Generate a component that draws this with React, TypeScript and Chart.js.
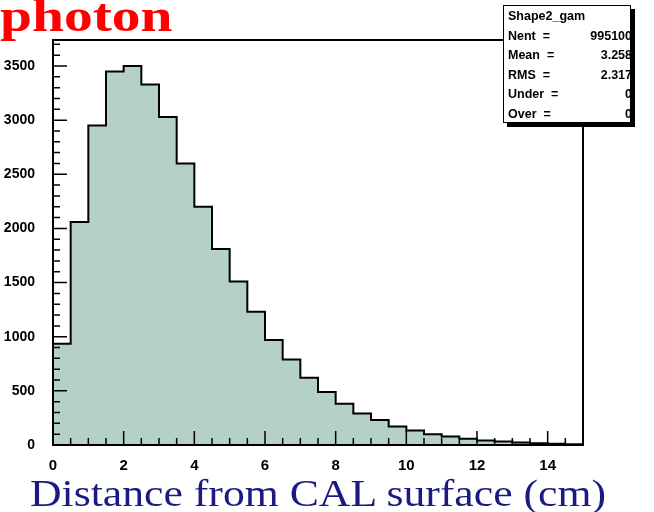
import React, { useEffect, useRef } from "react";
import { Chart, registerables } from "chart.js";
Chart.register(...registerables);

const binEdges = [0,0.5,1,1.5,2,2.5,3,3.5,4,4.5,5,5.5,6,6.5,7,7.5,8,8.5,9,9.5,10,10.5,11,11.5,12,12.5,13,13.5,14,14.5,15];
const counts = [935,2060,2950,3450,3500,3330,3030,2600,2200,1810,1510,1230,970,790,620,490,380,290,230,170,135,100,78,58,42,32,24,17,11,7];
const yTicks = [0,500,1000,1500,2000,2500,3000,3500];
const xTicks = [0,2,4,6,8,10,12,14];
const statsLines: [string, string][] = [["Nent", "995100"],["Mean", "3.258"],["RMS", "2.317"],["Under", "0"],["Over", "0"]];

const framePlugin = {
  id: "frame",
  afterDatasetsDraw(chart: any) {
    const { ctx, chartArea: a, scales } = chart;
    const x = scales.x, y = scales.y;
    ctx.save();
    ctx.strokeStyle = "#000";
    ctx.lineWidth = 2;
    ctx.strokeRect(a.left, a.top, a.right - a.left, a.bottom - a.top);
    ctx.lineWidth = 1.5;
    ctx.beginPath();
    for (let v = 0; v <= 3700; v += 100) {
      const py = y.getPixelForValue(v);
      const len = v % 500 === 0 ? 14 : 7;
      ctx.moveTo(a.left, py); ctx.lineTo(a.left + len, py);
    }
    for (let v = 0; v <= 15.001; v += 0.5) {
      const px = x.getPixelForValue(v);
      const len = Math.abs(v % 2) < 0.01 ? 14 : 7;
      ctx.moveTo(px, a.bottom); ctx.lineTo(px, a.bottom - len);
    }
    ctx.stroke();
    ctx.restore();
  },
};

export default function App() {
  const ref = useRef<HTMLCanvasElement>(null);
  useEffect(() => {
    const pts = binEdges.map((e, i) => ({ x: e, y: counts[Math.min(i, counts.length - 1)] }));
    const chart = new Chart(ref.current!, {
      type: "line",
      data: {
        datasets: [{
          data: pts,
          stepped: "before",
          fill: "origin",
          backgroundColor: "#b5d1c7",
          borderColor: "#000",
          borderWidth: 2,
          pointRadius: 0,
        }],
      },
      options: {
        animation: false,
        responsive: false,
        layout: { padding: { top: 40, right: 71, left: 0, bottom: 0 } },
        plugins: { legend: { display: false }, tooltip: { enabled: false } },
        scales: {
          x: {
            type: "linear", min: 0, max: 15,
            afterBuildTicks: (s: any) => { s.ticks = xTicks.map(v => ({ value: v })); },
            afterFit: (s: any) => { s.height = 67; },
            grid: { display: false }, border: { display: false },
            ticks: { color: "#000", font: { family: "Liberation Sans", size: 15, weight: "bold" }, padding: 4, maxRotation: 0, callback: (v: any) => String(v) },
          },
          y: {
            min: 0, max: 3740,
            afterBuildTicks: (s: any) => { s.ticks = yTicks.map(v => ({ value: v })); },
            afterFit: (s: any) => { s.width = 53; },
            grid: { display: false }, border: { display: false },
            ticks: { color: "#000", font: { family: "Liberation Sans", size: 14, weight: "bold" }, padding: 10, callback: (v: any) => String(v) },
          },
        },
      },
      plugins: [framePlugin],
    });
    return () => chart.destroy();
  }, []);
  return (
    <div style={{ position: "absolute", left: 0, top: 0, width: 654, height: 512, background: "#fff" }}>
      <canvas ref={ref} width={654} height={512} style={{ position: "absolute", left: 0, top: 0 }} />
      <div style={{ position: "absolute", left: 0, top: -11, color: "#f00", fontFamily: "Liberation Serif", fontWeight: "bold", fontSize: 46, transform: "scaleX(1.25)", transformOrigin: "left top" }}>photon</div>
      <div style={{ position: "absolute", left: 30, top: 471, color: "#1a1a80", fontFamily: "Liberation Serif", fontSize: 38, whiteSpace: "nowrap", transform: "scaleX(1.15)", transformOrigin: "left top" }}>Distance from CAL surface (cm)</div>
      <div style={{ position: "absolute", left: 503, top: 5, width: 128, height: 118, background: "#fff", border: "1.5px solid #000", boxShadow: "4px 4px 0 #000", fontFamily: "Liberation Sans", fontWeight: "bold", fontSize: 12.5, lineHeight: "19.5px", padding: "1px 4px", boxSizing: "border-box" }}>
        <div>Shape2_gam</div>
        {statsLines.map(([k, v]) => (
          <div key={k} style={{ display: "flex", justifyContent: "space-between" }}>
            <span>{k} &nbsp;=</span><span style={{ marginRight: -6 }}>{v}</span>
          </div>
        ))}
      </div>
    </div>
  );
}
